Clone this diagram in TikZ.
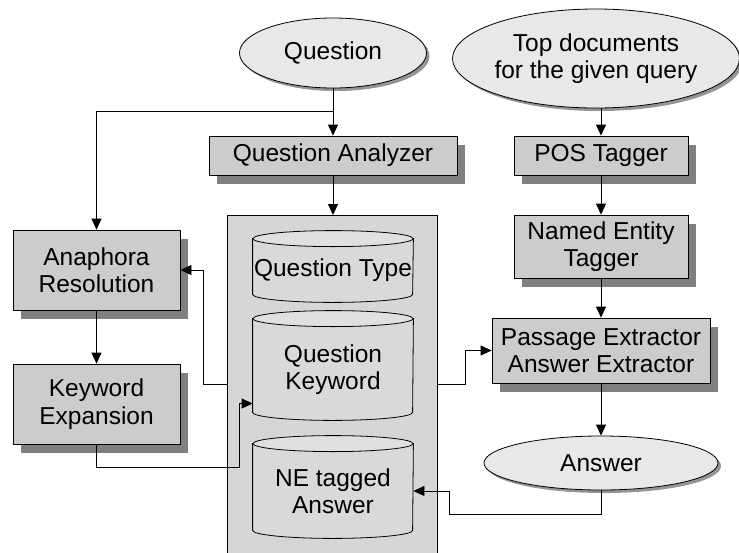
\documentclass[tikz,border=0pt]{standalone}
\usepackage{fontspec}
\setmainfont{Liberation Sans}
\usetikzlibrary{shapes, arrows.meta, shadows}

\definecolor{boxgray}{gray}{0.8}
\definecolor{shadegray}{gray}{0.5}
\definecolor{ovalgray}{gray}{0.91}
\definecolor{basegray}{gray}{0.84}
\definecolor{drumgray}{gray}{0.85}
\definecolor{drumtop}{gray}{0.88}

\begin{document}
\begin{tikzpicture}[x=1pt,y=1pt,line width=0.8pt,
  every node/.style={font=\fontsize{24.5}{27.5}\selectfont, align=center, inner sep=0pt},
  proc/.style={draw, fill=boxgray, drop shadow={shadow xshift=8pt, shadow yshift=-9pt, fill=shadegray, opacity=1}},
  oval/.style={draw, ellipse, fill=ovalgray, drop shadow={shadow xshift=3pt, shadow yshift=-3pt, fill=black!60, opacity=0.7}},
  drum/.style={minimum width=160pt},
  arr/.style={-{Triangle[length=11pt,width=10pt]}}]
\useasboundingbox (0,0) rectangle (739,-552);
\clip (0,0) rectangle (739,-552);

\node[oval, minimum width=187pt, minimum height=70pt] (qn) at (333,-53) {Question};
\node[oval, minimum width=283pt, minimum height=99pt] (td) at (596,-58.5) {Top documents\\for the given query};

\node[proc, minimum width=248pt, minimum height=39pt] (qa) at (333,-155.5) {Question Analyzer};
\node[proc, minimum width=174pt, minimum height=39pt] (pos) at (601,-155.5) {POS Tagger};
\node[proc, minimum width=174pt, minimum height=63pt] (ner) at (601,-246.5) {Named Entity\\Tagger};
\node[proc, minimum width=218pt, minimum height=65pt] (pax) at (601,-350.5) {Passage Extractor\\Answer Extractor};
\node[oval, minimum width=234pt, minimum height=54pt] (ans) at (601,-463) {Answer};

\node[proc, minimum width=167pt, minimum height=80pt] (ana) at (96.5,-270) {Anaphora\\Resolution};
\node[proc, minimum width=167pt, minimum height=80pt] (kexp) at (96.5,-404) {Keyword\\Expansion};

% question base with its three stores
\node[draw, fill=basegray, minimum width=210pt, minimum height=350pt, anchor=north] (db) at (332,-215) {};
\node[drum, minimum height=63pt] (qtype) at (333,-270.5) {};
\node[drum, minimum height=101pt] (qkey) at (333,-369.5) {};
\node[drum, minimum height=94pt] (netag) at (333,-491) {};
\foreach \c in {qtype,qkey,netag} {
  \filldraw[fill=drumgray] (\c.north west) -- ([yshift=8pt]\c.south west)
    arc[start angle=180, end angle=360, x radius=80pt, y radius=8pt] -- (\c.north east) -- cycle;
  \filldraw[fill=drumtop] (\c.north) ellipse[x radius=80pt, y radius=8pt];
}
\node (qtypet) at (qtype) {Question Type};
\node (qkeyt) at (qkey) {Question\\Keyword};
\node (netagt) at (netag) {NE tagged\\Answer};

\draw[arr] (qn.south) -- (qa.north);
\coordinate (qsplit) at (333,-111);
\draw[arr] (qsplit) -| (ana.north);
\draw[arr] (qa.south) -- (qa.south |- db.north);

\draw[arr] (pos.north |- td.south) -- (pos.north);
\draw[arr] (pos.south) -- (ner.north);
\draw[arr] (ner.south) -- (pax.north);
\draw[arr] (pax.south) -- (ans.north);

\coordinate (abend) at (449,-514);
\draw[arr] (ans.south) |- (abend) |- (netag.east);

\coordinate (dleft) at (203,-384);
\draw[arr] (dleft -| db.west) -- (dleft) |- (ana.east);
\coordinate (dright) at (465,-384);
\draw[arr] (dright -| db.east) -- (dright) |- (pax.west);

\draw[arr] (ana.south) -- (kexp.north);
\coordinate (kbend) at (239,-467);
\draw[arr] (kexp.south) |- (kbend) |- ([yshift=-34pt]qkey.west);
\end{tikzpicture}
\end{document}
